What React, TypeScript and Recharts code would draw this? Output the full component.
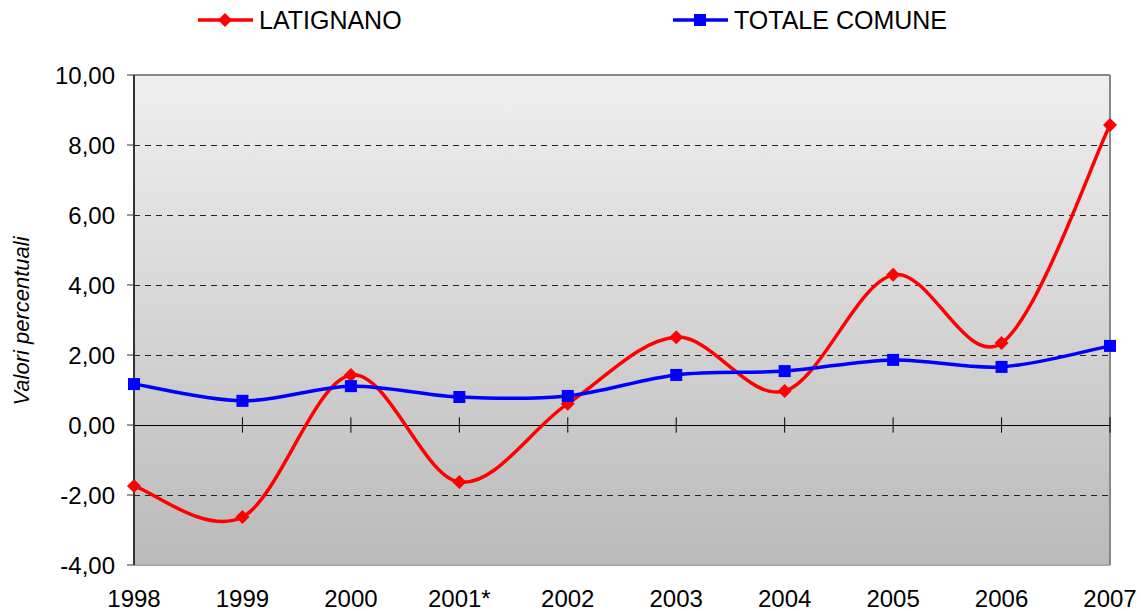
import React from "react";
import { LineChart, Line, XAxis, YAxis, CartesianGrid, ReferenceLine, Legend, Label } from "recharts";

const years = ["1998", "1999", "2000", "2001*", "2002", "2003", "2004", "2005", "2006", "2007"];
const latignano = [-1.74, -2.63, 1.43, -1.63, 0.61, 2.51, 0.97, 4.29, 2.34, 8.57];
const totaleComune = [1.17, 0.69, 1.11, 0.8, 0.83, 1.43, 1.54, 1.86, 1.66, 2.26];
const yTicks = [-4, -2, 0, 2, 4, 6, 8, 10];
const dashedGrid = [-2, 2, 4, 6, 8];

const data = years.map((year, i) => ({
  year,
  latignano: latignano[i],
  totale: totaleComune[i],
}));

const FONT = '"Liberation Sans", Arial, sans-serif';

// Excel-like smoothed line (Catmull-Rom style bezier)
const excelSmooth = (context: any) => {
  let pts: number[][] = [];
  return {
    areaStart() {},
    areaEnd() {},
    lineStart() {
      pts = [];
    },
    point(x: number, y: number) {
      pts.push([+x, +y]);
    },
    lineEnd() {
      const n = pts.length;
      if (!n) return;
      context.moveTo(pts[0][0], pts[0][1]);
      for (let i = 0; i < n - 1; i++) {
        const p0 = pts[i - 1] || pts[i];
        const p1 = pts[i];
        const p2 = pts[i + 1];
        const p3 = pts[i + 2] || p2;
        context.bezierCurveTo(
          p1[0] + (p2[0] - p0[0]) / 6,
          p1[1] + (p2[1] - p0[1]) / 6,
          p2[0] - (p3[0] - p1[0]) / 6,
          p2[1] - (p3[1] - p1[1]) / 6,
          p2[0],
          p2[1]
        );
      }
    },
  };
};

const Diamond = (props: any) => {
  const { cx, cy, index } = props;
  return (
    <path
      key={`lat-${index}`}
      d={`M${cx},${cy - 7}L${cx + 7},${cy}L${cx},${cy + 7}L${cx - 7},${cy}Z`}
      fill="#ff0000"
    />
  );
};

const Square = (props: any) => {
  const { cx, cy, index } = props;
  return <rect key={`tot-${index}`} x={cx - 6} y={cy - 6} width={12} height={12} fill="#0000ff" />;
};

const legendX = [198, 673];

const renderLegend = (props: any) => {
  const { payload } = props;
  return (
    <svg width={1141} height={45}>
      {(payload || []).map((entry: any, i: number) => {
        const x = legendX[i];
        const mid = x + 27;
        return (
          <g key={entry.value}>
            <line x1={x} x2={x + 55} y1={20} y2={20} stroke={entry.color} strokeWidth={3.5} />
            {i === 0 ? (
              <path d={`M${mid},${13}L${mid + 7},${20}L${mid},${27}L${mid - 7},${20}Z`} fill={entry.color} />
            ) : (
              <rect x={mid - 6} y={14} width={12} height={12} fill={entry.color} />
            )}
            <text x={x + 61} y={29} fontSize={25} fontFamily={FONT} fill="#000">
              {entry.value}
            </text>
          </g>
        );
      })}
    </svg>
  );
};

const fmt = (v: number) => v.toFixed(2).replace(".", ",");

const App = () => {
  return (
    <div style={{ position: "absolute", left: 0, top: 0, width: 1141, height: 611, background: "#ffffff" }}>
      <LineChart width={1141} height={611} data={data} margin={{ top: 75, right: 31, bottom: 0, left: 0 }}>
        <defs>
          <linearGradient id="plotBg" x1="0" y1="0" x2="0" y2="1">
            <stop offset="0%" stopColor="#efefef" />
            <stop offset="100%" stopColor="#bababa" />
          </linearGradient>
        </defs>
        <CartesianGrid horizontal={false} vertical={false} fill="url(#plotBg)" />
        <XAxis
          dataKey="year"
          height={46}
          axisLine={false}
          tickLine={false}
          tickSize={6}
          tickMargin={19}
          interval={0}
          tick={{ fill: "#000", fontSize: 24, fontFamily: FONT }}
        />
        <YAxis
          width={134}
          domain={[-4, 10]}
          ticks={yTicks}
          tickFormatter={fmt}
          interval={0}
          tickSize={7}
          tickMargin={12}
          axisLine={{ stroke: "#333333", strokeWidth: 2 }}
          tickLine={{ stroke: "#333333" }}
          tick={{ fill: "#000", fontSize: 24, fontFamily: FONT }}
        >
          <Label
            content={() => (
              <text
                transform="translate(29,321) rotate(-90)"
                textAnchor="middle"
                fontSize={22}
                fontStyle="italic"
                fontFamily={FONT}
                fill="#000"
              >
                Valori percentuali
              </text>
            )}
          />
        </YAxis>
        {dashedGrid.map((v) => (
          <ReferenceLine
            key={`grid-${v}`}
            y={v}
            stroke="#222222"
            strokeWidth={1}
            strokeDasharray="6 5"
            shapeRendering="crispEdges"
          />
        ))}
        <ReferenceLine y={10} stroke="#888888" strokeWidth={2} />
        <ReferenceLine y={-4} stroke="#a8a8a8" strokeWidth={2} />
        <ReferenceLine x="2007" stroke="#888888" strokeWidth={2} />
        <ReferenceLine y={0} stroke="#000000" strokeWidth={1} shapeRendering="crispEdges" />
        {years.map((yr) => (
          <ReferenceLine
            key={`tick-${yr}`}
            segment={[
              { x: yr, y: -0.22 },
              { x: yr, y: 0.22 },
            ]}
            stroke="#000000"
            strokeWidth={1}
          />
        ))}
        <Legend
          verticalAlign="middle"
          align="center"
          layout="horizontal"
          wrapperStyle={{ top: 0, left: 0, width: 1141, height: 45 }}
          content={renderLegend}
        />
        <Line
          name="LATIGNANO"
          dataKey="latignano"
          type={excelSmooth as any}
          stroke="#ff0000"
          strokeWidth={3.5}
          dot={Diamond}
          activeDot={false}
          isAnimationActive={false}
        />
        <Line
          name="TOTALE COMUNE"
          dataKey="totale"
          type={excelSmooth as any}
          stroke="#0000ff"
          strokeWidth={3.5}
          dot={Square}
          activeDot={false}
          isAnimationActive={false}
        />
      </LineChart>
    </div>
  );
};

export default App;
